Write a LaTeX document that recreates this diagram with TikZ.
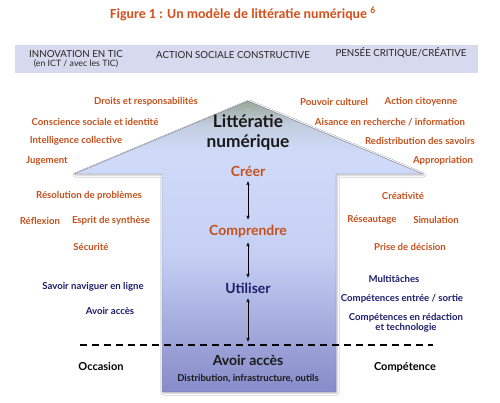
\documentclass[tikz,border=0pt]{standalone}
\usepackage{fontspec}
\setmainfont{Lato}
\newfontfamily\titlefont{Carlito}
\usetikzlibrary{arrows.meta, shadows.blur}
\definecolor{rouille}{HTML}{C4511C}
\definecolor{titre}{HTML}{D4511F}
\definecolor{marine}{HTML}{1E1F6B}
\definecolor{bandeau}{HTML}{D7DAEF}
\definecolor{contour}{HTML}{7C7E8E}
\definecolor{haut}{HTML}{98A796}
\definecolor{mixte}{HTML}{C2CDDF}
\definecolor{clair}{HTML}{D0DBFA}
\definecolor{moyen}{HTML}{C6D0F4}
\definecolor{fonce}{HTML}{878BC9}
\pgfdeclareverticalshading{flecheombre}{100bp}{color(0bp)=(fonce); color(25bp)=(fonce);
  color(49bp)=(moyen); color(66bp)=(clair); color(71bp)=(mixte); color(75bp)=(haut); color(100bp)=(haut)}
\tikzset{
  lab/.style    ={font=\bfseries\fontsize{9.6}{11}\selectfont, text=rouille, inner sep=1pt},
  labb/.style   ={lab, text=marine},
  labn/.style   ={lab, text=black, font=\bfseries\fontsize{11}{13}\selectfont},
  entete/.style ={font=\fontsize{9.7}{10.5}\selectfont, align=center, text=black!85, inner sep=1pt},
  niveau/.style ={font=\bfseries\fontsize{14}{16}\selectfont, text=rouille, inner sep=1pt},
  lien/.style   ={{Stealth[length=4pt,width=3.4pt]}-{Stealth[length=4pt,width=3.4pt]}, thin, black}
}
\begin{document}
\begin{tikzpicture}[x=1pt, y=-1pt]
  \useasboundingbox[fill=white] (0,0) rectangle (500,403);

  % titre et bandeau
  \node[font=\titlefont\bfseries\fontsize{13.9}{15}\selectfont, text=titre] (titre) at (243,14)
    {Figure 1 : Un modèle de littératie numérique \textsuperscript{6}};
  \fill[bandeau] (15,45) rectangle (478,73);
  \node[entete] (innov) at (76,59) {INNOVATION EN TIC\\[-1pt]{\fontsize{8.8}{9.6}\selectfont(en ICT / avec les TIC)}};
  \node[entete] (action) at (233,55) {ACTION SOCIALE CONSTRUCTIVE};
  \node[entete] (pensee) at (401,53) {PENSÉE CRITIQUE/CRÉATIVE};

  % grande fleche
  \path[draw=contour, thin, shading=flecheombre,
        blur shadow={shadow xshift=1pt, shadow yshift=-1pt, shadow blur steps=4, shadow opacity=25}]
    (248,101) -- (423,174) -- (336,174) -- (336,392) -- (162,392) -- (162,174) -- (74,174) -- cycle;
  \draw[line width=1.6pt, dash pattern=on 7pt off 5pt] (80,345) -- (433,345);

  % niveaux
  \node[font=\bfseries\fontsize{17.3}{20}\selectfont, align=center, text=black!90] (litt) at (248,133)
    {Littératie\\numérique};
  \node[niveau] (creer) at (248,171) {Créer};
  \node[niveau] (compr) at (248,231) {Comprendre};
  \node[niveau, text=marine] (util) at (248,288) {Utiliser};
  \node[niveau, text=black!90] (acces) at (248,360) {Avoir accès};
  \node[lab, text=black!90, font=\bfseries\fontsize{9.5}{11}\selectfont] (infra) at (248,379)
    {Distribution, infrastructure, outils};
  \draw[lien, shorten <=4pt, shorten >=4pt] (creer) -- (compr);
  \draw[lien, shorten <=4pt, shorten >=4pt] (compr) -- (util);
  \draw[lien, shorten <=4pt, shorten >=12pt] (util) -- (acces);

  % competences a gauche
  \node[lab] (droits) at (146,102) {Droits et responsabilités};
  \node[lab] (consc)  at (95,122)  {Conscience sociale et identité};
  \node[lab] (intel)  at (76,141)  {Intelligence collective};
  \node[lab] (juge)   at (47,161)  {Jugement};
  \node[lab] (resol)  at (89,196)  {Résolution de problèmes};
  \node[lab] (refl)   at (40,221)  {Réflexion};
  \node[lab] (synth)  at (111,221) {Esprit de synthèse};
  \node[lab] (secu)   at (91,247)  {Sécurité};
  \node[labb] (navig) at (93,287)  {Savoir naviguer en ligne};
  \node[labb] (avoir) at (110,311) {Avoir accès};
  \node[labn] (occas) at (101,366) {Occasion};

  % competences a droite
  \node[lab] (pouv)   at (334,102) {Pouvoir culturel};
  \node[lab] (citoy)  at (421,102) {Action citoyenne};
  \node[lab] (aisan)  at (390,122) {Aisance en recherche / information};
  \node[lab] (redis)  at (420,141) {Redistribution des savoirs};
  \node[lab] (appro)  at (443,161) {Appropriation};
  \node[lab] (creat)  at (403,196) {Créativité};
  \node[lab] (reseau) at (372,220) {Réseautage};
  \node[lab] (simul)  at (436,220) {Simulation};
  \node[lab] (prise)  at (410,247) {Prise de décision};
  \node[labb] (multi) at (394,279) {Multitâches};
  \node[labb] (entree) at (402,299) {Compétences entrée / sortie};
  \node[labb, align=center] (redac) at (406,323) {Compétences en rédaction\\[-1pt]et technologie};
  \node[labn] (compet) at (405,367) {Compétence};
\end{tikzpicture}
\end{document}
